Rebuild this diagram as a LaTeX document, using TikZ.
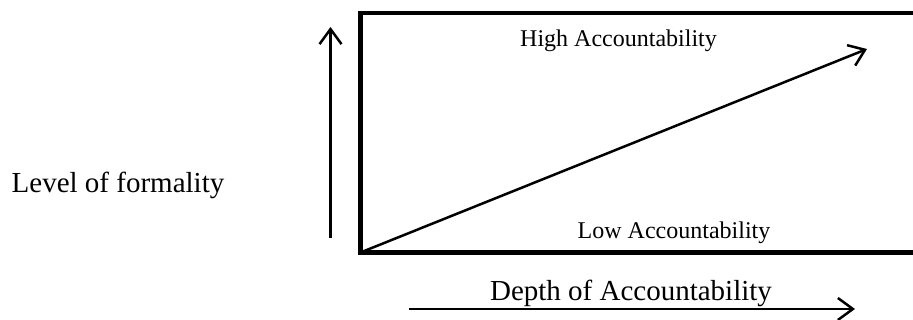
\documentclass[tikz,border=0pt]{standalone}
\usepackage{fontspec}
\setmainfont{Liberation Serif}
\usetikzlibrary{arrows.meta}
\begin{document}
\begin{tikzpicture}[x=1pt,y=-1pt,
  thinline/.style={line width=2.5pt},
  arrowline/.style={thinline,-{Straight Barb[length=15pt,width=22pt]}},
  boxline/.style={line width=4.4pt},
  smalllabel/.style={font=\fontsize{24}{27}\selectfont, inner sep=0pt, anchor=base},
  biglabel/.style={font=\fontsize{29}{33}\selectfont, inner sep=0pt, anchor=base}]
\useasboundingbox (0,0) rectangle (913,320);
\coordinate (bl) at (360.5,252.5);
\coordinate (tr) at (935,13);
\draw[boxline] (bl) rectangle (tr);
\coordinate (vs) at (330.5,238);
\coordinate (ve) at (330.5,27);
\draw[arrowline] (vs) -- (ve);
\coordinate (de) at (867,49);
\draw[arrowline] (bl) -- (de);
\coordinate (hs) at (409,309);
\coordinate (he) at (855,309);
\draw[arrowline] (hs) -- (he);
\node[smalllabel] (high) at (618.5,47) {High Accountability};
\node[smalllabel] (low) at (674,239) {Low Accountability};
\node[biglabel] (level) at (118,193) {Level of formality};
\node[biglabel] (depth) at (631,301) {Depth of Accountability};
\end{tikzpicture}
\end{document}
